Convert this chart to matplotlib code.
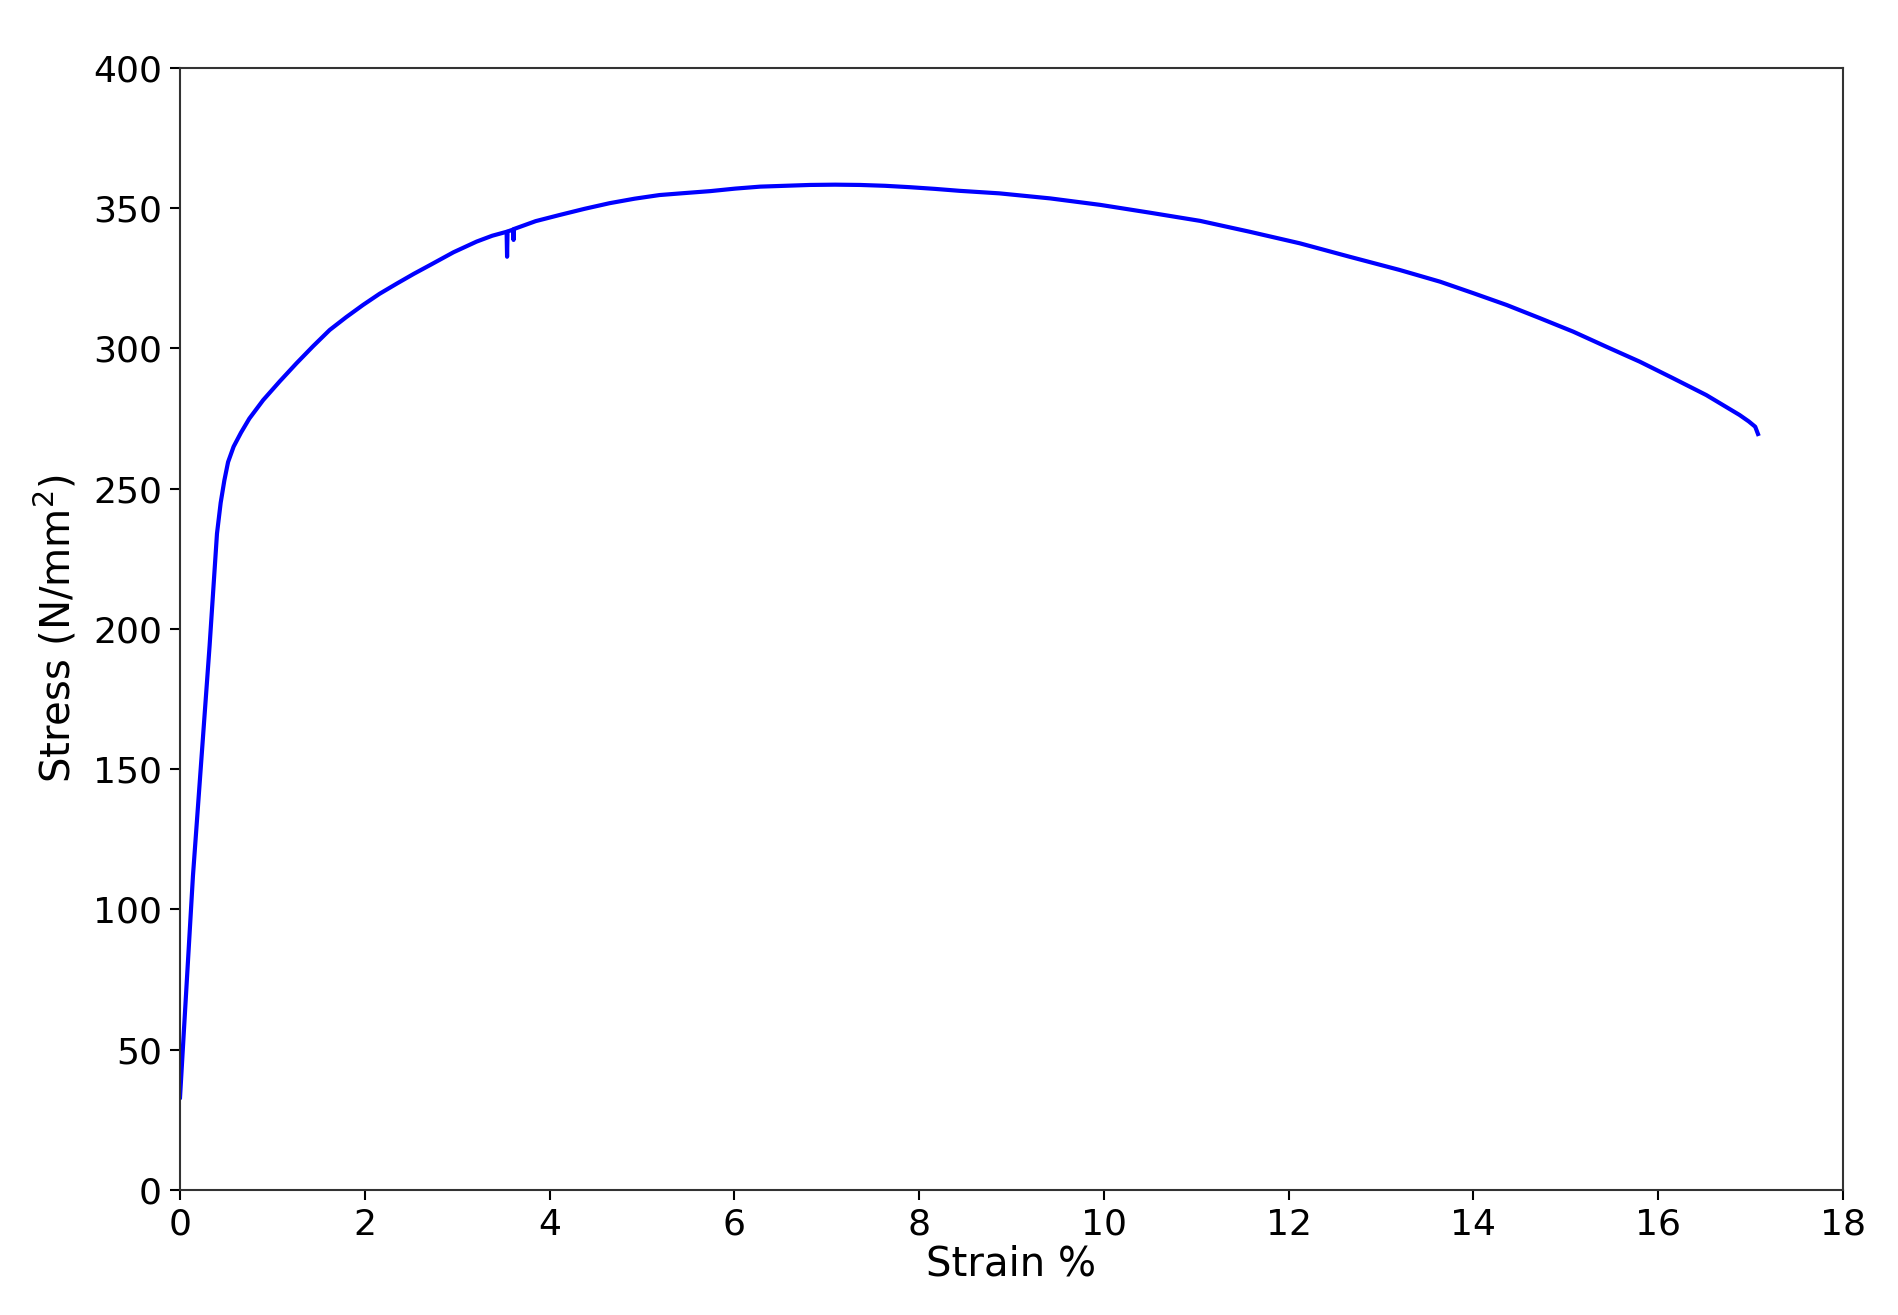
"""Stress-strain curve from a tensile test."""

import matplotlib.pyplot as plt

# Values
strain = [
    0.0, 0.03, 0.14, 0.23, 0.32, 0.40, 0.44, 0.48, 0.52, 0.58,
    0.66, 0.75, 0.90, 1.08, 1.26, 1.44, 1.62, 1.80, 1.98, 2.16, 2.35,
    2.53, 2.71, 2.96, 3.21, 3.38, 3.535, 3.54, 3.545, 3.605, 3.61,
    3.615, 3.85, 4.11, 4.38, 4.65, 4.92, 5.19, 5.46, 5.74, 6.01,
    6.28, 6.55, 6.82, 7.09, 7.36, 7.63, 7.90, 8.17, 8.44, 8.87,
    9.42, 9.96, 10.50, 11.04, 11.58, 12.12, 12.66, 13.20, 13.64, 14.00,
    14.36, 14.72, 15.08, 15.44, 15.80, 16.16, 16.52, 16.88, 16.98, 17.05,
    17.08,
]
stress = [
    33, 50, 112, 153, 194, 234, 245, 253, 259.5, 265,
    270, 275, 281.6, 288.3, 294.7, 300.8, 306.6, 311.2, 315.5, 319.5, 323.2,
    326.6, 329.8, 334.3, 338.1, 340.2, 341.6, 332.7, 341.7, 342.4, 338.7,
    342.6, 345.4, 347.6, 349.8, 351.8, 353.4, 354.7, 355.4, 356.1, 357.0,
    357.7, 358.0, 358.3, 358.4, 358.3, 358.0, 357.5, 356.9, 356.2, 355.3,
    353.5, 351.2, 348.4, 345.5, 341.6, 337.5, 332.7, 328.0, 323.8, 319.7,
    315.5, 310.8, 306.0, 300.6, 295.3, 289.4, 283.4, 276.3, 274.0, 272.1,
    269.5,
]
x_ticks = [0, 2, 4, 6, 8, 10, 12, 14, 16, 18]
y_ticks = [0, 50, 100, 150, 200, 250, 300, 350, 400]


def main():
    fig = plt.figure(figsize=(18.99, 13.15), dpi=100)
    ax = fig.add_axes([0.0948, 0.0951, 0.8757, 0.8532])

    ax.plot(strain, stress, color="blue", linewidth=3)

    ax.set_xlim(0, 18)
    ax.set_ylim(0, 400)
    ax.set_xticks(x_ticks)
    ax.set_yticks(y_ticks)
    ax.tick_params(labelsize=26, length=7, width=1.5, pad=6)
    for spine in ax.spines.values():
        spine.set_linewidth(1.5)
        spine.set_color("#333333")

    ax.set_xlabel("Strain %", fontsize=29, labelpad=2)
    ax.set_ylabel("Stress (N/mm$^2$)", fontsize=29, labelpad=10)

    fig.savefig("out.png", dpi=100)


if __name__ == "__main__":
    main()
